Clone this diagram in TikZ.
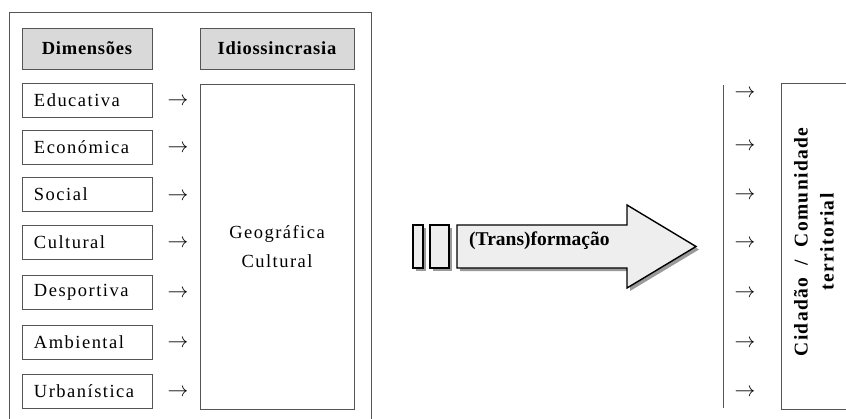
\documentclass[tikz,border=0pt]{standalone}
\usepackage{fontspec}
\setmainfont{Liberation Serif}[LetterSpace=8]
\definecolor{lineg}{HTML}{555555}
\definecolor{headg}{HTML}{D9D9D9}
\definecolor{arrfill}{HTML}{EEEEEE}
\definecolor{shadowg}{HTML}{9A9A9A}
\begin{document}
\begin{tikzpicture}[x=1pt,y=-1pt,
  every node/.style={font=\fontsize{18.5}{21}\selectfont},
  dimbox/.style={draw=lineg,line width=0.9pt,text width=106pt,inner xsep=12pt,align=left,minimum height=34pt,anchor=center},
  headbox/.style={draw=lineg,line width=0.9pt,fill=headg,minimum height=41pt,font=\fontsize{18.5}{21}\selectfont\bfseries\addfontfeature{LetterSpace=4}},
  arr/.style={inner sep=0pt,font=\fontsize{22}{22}\selectfont},
  frame/.style={draw=lineg,line width=0.9pt},
  bigarrow/.style={draw=black,line width=1.4pt,fill=arrfill},
  shadow/.style={fill=shadowg,draw=none}
]
\clip (0,0) rectangle (846,418);
\fill[white] (0,0) rectangle (846,418);
% outer frame
\draw[frame] (9,12) rectangle (371,430);
% headers
\node[headbox,minimum width=130pt] (hdim) at (87,48.5) {Dimensões};
\node[headbox,minimum width=154pt] (hidi) at (277,48.5) {Idiossincrasia};
% dimension boxes
\node[dimbox] (d1) at (87,100) {Educativa};
\node[dimbox] (d2) at (87,147) {Económica};
\node[dimbox] (d3) at (87,194) {Social};
\node[dimbox] (d4) at (87,242.5) {Cultural};
\node[dimbox] (d5) at (87,292.5) {Desportiva};
\node[dimbox] (d6) at (87,342) {Ambiental};
\node[dimbox] (d7) at (87,391) {Urbanística};
% arrows to idiosyncrasy box
\foreach \i/\y in {1/102,2/149,3/197,4/244,5/294,6/344,7/393}{
  \node[arr] (a\i) at (178,\y) {$\rightarrow$};
}
% idiosyncrasy box
\node[frame,minimum width=154pt,minimum height=325pt,align=center,font=\fontsize{18.5}{29}\selectfont] (idb) at (277,246.5) {Geográfica\\Cultural};
% big transformation arrow with shadow
\fill[shadowg] (416,228) rectangle (426,271);
\fill[shadowg] (433,228) rectangle (452,271);
\fill[shadowg] (460,228) -- (630,228) -- (630,208) -- (699,249.5) -- (630,291) -- (630,271) -- (460,271) -- cycle;
\draw[bigarrow] (413,225) rectangle (423,268);
\draw[bigarrow] (430,225) rectangle (449,268);
\draw[bigarrow] (457,225) -- (627,225) -- (627,205) -- (696,246.5) -- (627,288) -- (627,268) -- (457,268) -- cycle;
\node[anchor=west,inner sep=0pt,font=\fontsize{19.5}{22}\selectfont\bfseries\addfontfeature{LetterSpace=0}] (trans) at (469,241) {(Trans)formação};
% right part
\coordinate (vtop) at (723,85);
\coordinate (vbot) at (723,408);
\draw[lineg,line width=0.9pt] (vtop) -- (vbot);
\foreach \i/\y in {1/94,2/147,3/196,4/244,5/294,6/344,7/393}{
  \node[arr] (b\i) at (745,\y) {$\rightarrow$};
}
\draw[frame] (781,83) rectangle (852,409);
\node[rotate=90,align=center,font=\fontsize{19.5}{26}\selectfont\bfseries\addfontfeature{LetterSpace=7}] (cid) at (814,242) {Cidadão\ \ /\ \ Comunidade\\territorial};
\end{tikzpicture}
\end{document}
